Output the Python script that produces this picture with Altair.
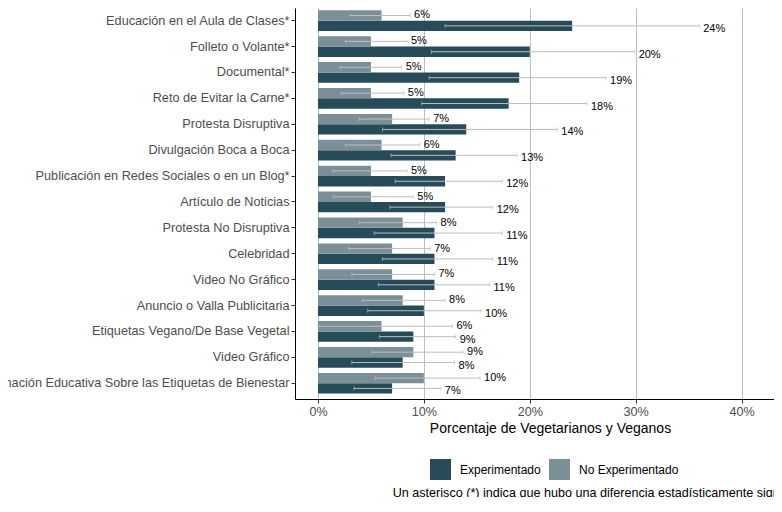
import altair as alt
import pandas as pd

categories = [
    "Educación en el Aula de Clases*",
    "Folleto o Volante*",
    "Documental*",
    "Reto de Evitar la Carne*",
    "Protesta Disruptiva",
    "Divulgación Boca a Boca",
    "Publicación en Redes Sociales o en un Blog*",
    "Artículo de Noticias",
    "Protesta No Disruptiva",
    "Celebridad",
    "Video No Gráfico",
    "Anuncio o Valla Publicitaria",
    "Etiquetas Vegano/De Base Vegetal",
    "Video Gráfico",
    "Información Educativa Sobre las Etiquetas de Bienestar",
]

exp_val = [24, 20, 19, 18, 14, 13, 12, 12, 11, 11, 11, 10, 9, 8, 7]
exp_lo = [12.0, 10.7, 10.5, 9.8, 6.1, 6.9, 7.3, 6.8, 5.3, 6.1, 5.7, 4.7, 5.8, 3.2, 3.4]
exp_hi = [36.0, 29.9, 27.2, 25.4, 22.6, 18.8, 17.4, 16.5, 17.4, 16.5, 16.2, 15.4, 13.0, 12.9, 11.6]

noexp_val = [6, 5, 5, 5, 7, 6, 5, 5, 8, 7, 7, 8, 6, 9, 10]
noexp_lo = [3.0, 2.6, 2.1, 2.2, 3.9, 2.6, 1.4, 1.45, 3.9, 2.9, 3.2, 4.2, 0.0, 5.1, 5.4]
noexp_hi = [8.7, 8.4, 7.9, 8.1, 10.5, 9.6, 8.4, 9.0, 11.2, 10.6, 11.0, 12.0, 12.7, 13.7, 15.3]

groups = ["Experimentado", "No Experimentado"]
colors = ["#264b59", "#7b8f99"]
x_ticks = [0, 0.1, 0.2, 0.3, 0.4]

x_title = "Porcentaje de Vegetarianos y Veganos"
caption = "Un asterisco (*) indica que hubo una diferencia estadísticamente significativa entre los dos grupos"

rows = []
for i, c in enumerate(categories):
    rows.append(dict(cat=c, grupo=groups[0], val=exp_val[i] / 100, lo=exp_lo[i] / 100, hi=exp_hi[i] / 100))
    rows.append(dict(cat=c, grupo=groups[1], val=noexp_val[i] / 100, lo=noexp_lo[i] / 100, hi=noexp_hi[i] / 100))
df = pd.DataFrame(rows)

FONT = "Liberation Sans"

xscale = alt.Scale(domain=[-0.0217, 0.4306], nice=False, zero=False)
yscale = alt.Scale(domain=categories, paddingInner=0.2, paddingOuter=0.1486, align=0.3)
yoff_scale = alt.Scale(domain=[groups[1], groups[0]], paddingInner=0, paddingOuter=0)

x_axis = alt.Axis(
    values=x_ticks, format=".0%", grid=True, gridColor="#bebebe", gridWidth=1,
    domainColor="black", domainWidth=1, tickColor="#333333", tickSize=4,
    labelColor="#4d4d4d", labelFontSize=12.6, labelPadding=2, labelFont=FONT,
    title=x_title, titleFontSize=14, titleFontWeight="normal", titleColor="black",
    titleFont=FONT, titleX=255, titleY=33, titleBaseline="alphabetic", titleAlign="center",
)
y_axis = alt.Axis(
    title=None, domainColor="black", domainWidth=1, tickColor="#333333", tickSize=4,
    labelPadding=2, labelColor="#4d4d4d", labelFontSize=12.7, labelFont=FONT,
    labelLimit=1000, grid=False,
)

Y = alt.Y("cat:N", sort=categories, scale=yscale, axis=y_axis)
YO = alt.YOffset("grupo:N", scale=yoff_scale)

base = alt.Chart(df)

bars = base.mark_bar().encode(
    x=alt.X("val:Q", scale=xscale, axis=x_axis),
    x2=alt.datum(0),
    y=Y,
    yOffset=YO,
    color=alt.Color(
        "grupo:N",
        scale=alt.Scale(domain=groups, range=colors),
        legend=alt.Legend(
            title=None, orient="none", legendX=135, legendY=451, direction="horizontal",
            symbolType="square", symbolSize=441, symbolStrokeWidth=0,
            labelFont=FONT, labelFontSize=12, labelColor="black", labelOffset=9,
            columnPadding=8,
        ),
    ),
)

err = base.mark_rule(color="#bdbdbd", strokeWidth=1).encode(
    x=alt.X("lo:Q", scale=xscale),
    x2="hi:Q",
    y=Y,
    yOffset=YO,
)

caps = base.transform_fold(["lo", "hi"], as_=["k", "v"]).mark_tick(
    color="#bdbdbd", thickness=1, size=4, orient="vertical"
).encode(
    x=alt.X("v:Q", scale=xscale),
    y=Y,
    yOffset=YO,
)

txt_exp = base.transform_filter(alt.datum.grupo == groups[0]).mark_text(
    align="left", baseline="middle", dx=4, dy=3, fontSize=11, font=FONT, color="black"
).encode(
    x=alt.X("hi:Q", scale=xscale),
    y=Y,
    yOffset=YO,
    text=alt.Text("val:Q", format=".0%"),
)

txt_no = base.transform_filter(alt.datum.grupo == groups[1]).mark_text(
    align="left", baseline="middle", dx=4, dy=0, fontSize=11, font=FONT, color="black"
).encode(
    x=alt.X("hi:Q", scale=xscale),
    y=Y,
    yOffset=YO,
    text=alt.Text("val:Q", format=".0%"),
)

chart = alt.layer(bars, err, caps, txt_exp, txt_no).properties(
    width=479,
    height=391,
    autosize=alt.AutoSizeParams(type="none"),
    padding={"left": 287, "top": 0, "right": 0, "bottom": 98},
    title=alt.TitleParams(
        text=caption, orient="bottom", anchor="start", frame="group", dx=97.7, offset=7,
        fontSize=12.6, fontWeight="normal", font=FONT, color="black",
    ),
).configure_view(stroke=None)

chart.save("out.html", embed_options={"renderer": "svg", "actions": False})
